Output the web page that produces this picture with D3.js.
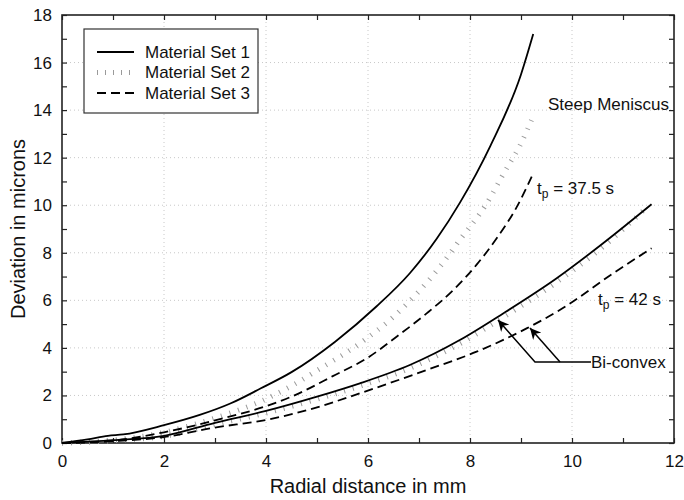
<!DOCTYPE html>
<html><head><meta charset="utf-8">
<script src="https://cdn.jsdelivr.net/npm/d3@7"></script>
<style>body{margin:0;background:#fff}svg{display:block;font-family:"Liberation Sans",Arial,sans-serif}</style>
</head><body><svg id="c" width="684" height="500"></svg>
<script>
const xTicks = [0,2,4,6,8,10,12];
const yTicks = [0,2,4,6,8,10,12,14,16,18];
const seriesNames = ["Material Set 1","Material Set 2","Material Set 3"];

// Steep Meniscus (tp = 37.5 s)
const steep1X = [0,0.5,0.9,1.2,2,2.7,3.3,3.9,4.5,5.35,6.17,6.82,7.35,7.8,8.4,9.0,9.24];
const steep1Y = [0,0.15,0.3,0.36,0.75,1.18,1.66,2.3,2.98,4.25,5.75,7.14,8.6,10.1,12.5,15.5,17.2];
const steep2X = [0,1,2,3,4,4.5,5,5.84,6.5,7.02,7.41,7.8,8.33,8.65,9.0,9.25];
const steep2Y = [0,0.12,0.45,1.05,1.85,2.4,3.05,4.19,5.31,6.43,7.41,8.54,10.08,11.3,12.6,13.8];
const steep3X = [0,1,2,3,4,4.5,5.3,6.04,6.56,7.15,7.67,8.13,8.52,8.91,9.21];
const steep3Y = [0,0.1,0.45,0.95,1.55,1.95,2.8,3.65,4.47,5.45,6.43,7.5,8.6,9.9,11.2];

// Bi-convex (tp = 42 s)
const bic1X = [0,1,2,3,4,5,5.84,6.82,7.8,8.65,9.7,10.61,11.56];
const bic1Y = [0,0.12,0.3,0.85,1.35,1.95,2.51,3.28,4.33,5.45,6.93,8.4,10.04];
const bic2X = [0,1,2,3,4,5,5.84,6.82,7.8,8.65,9.7,10.61,11.5];
const bic2Y = [0,0.1,0.28,0.77,1.26,1.84,2.39,3.14,4.17,5.28,6.76,8.25,9.98];
const bic3X = [0,1,2,3,4,5,5.84,7.15,8.13,9.11,9.76,10.81,11.56];
const bic3Y = [0,0.08,0.25,0.65,0.97,1.5,2.09,3.07,3.84,4.82,5.59,7.14,8.19];

const svg = d3.select("#c");
const x = d3.scaleLinear().domain([0,12]).range([62,674]);
const y = d3.scaleLinear().domain([0,18]).range([443,15]);

svg.append("rect").attr("width",684).attr("height",500).attr("fill","#fff");

// grid
const g = svg.append("g");
g.selectAll(".gx").data(xTicks.slice(1,-1)).enter().append("line")
 .attr("x1",d=>x(d)).attr("x2",d=>x(d)).attr("y1",y(0)).attr("y2",y(18))
 .attr("stroke","#c8c8c8").attr("stroke-dasharray","1,3");
g.selectAll(".gy").data(yTicks.slice(1,-1)).enter().append("line")
 .attr("y1",d=>y(d)).attr("y2",d=>y(d)).attr("x1",x(0)).attr("x2",x(12))
 .attr("stroke","#c8c8c8").attr("stroke-dasharray","1,3");

// axes
const minorX = d3.range(0,13,1), minorY = d3.range(0,19,1);
const axB = d3.axisBottom(x).tickValues(minorX).tickSize(-5).tickFormat(d=>xTicks.includes(d)?d:"");
const axT = d3.axisTop(x).tickValues(minorX).tickSize(-5).tickFormat("");
const axL = d3.axisLeft(y).tickValues(minorY).tickSize(-5).tickFormat(d=>yTicks.includes(d)?d:"");
const axR = d3.axisRight(y).tickValues(minorY).tickSize(-5).tickFormat("");
function style(sel){
  sel.select(".domain").remove();
  sel.selectAll("line").attr("stroke","#222").attr("stroke-width",1.2);
  sel.selectAll("text").attr("font-size",17).attr("fill","#111").attr("font-family","Liberation Sans, Arial, sans-serif");
}
svg.append("g").attr("transform",`translate(0,${y(0)})`).call(axB).call(style).selectAll("text").attr("dy","0.71em").attr("y",12);
svg.append("g").attr("transform",`translate(0,${y(18)})`).call(axT).call(style);
svg.append("g").attr("transform",`translate(${x(0)},0)`).call(axL).call(style).selectAll("text").attr("x",-10);
svg.append("g").attr("transform",`translate(${x(12)},0)`).call(axR).call(style);
svg.append("rect").attr("x",x(0)).attr("y",y(18)).attr("width",x(12)-x(0)).attr("height",y(0)-y(18))
 .attr("fill","none").attr("stroke","#222").attr("stroke-width",1.6);

// series
const line = d3.line().x(d=>x(d[0])).y(d=>y(d[1])).curve(d3.curveMonotoneX);
const styles = [
  {stroke:"#000",width:1.8,dash:null},
  {stroke:"#9a9a9a",width:5,dash:"1,8"},
  {stroke:"#000",width:1.8,dash:"9,5"}
];
const series = [
  [steep1X,steep1Y,0],[steep2X,steep2Y,1],[steep3X,steep3Y,2],
  [bic1X,bic1Y,0],[bic2X,bic2Y,1],[bic3X,bic3Y,2]
];
[1,0,2].forEach(k=>{
  series.filter(s=>s[2]===k).forEach(s=>{
    const pts = s[0].map((v,i)=>[v,s[1][i]]);
    const st = styles[k];
    svg.append("path").attr("d",line(pts)).attr("fill","none")
      .attr("stroke",st.stroke).attr("stroke-width",st.width)
      .attr("stroke-dasharray",st.dash).attr("stroke-linejoin","round");
  });
});

// legend
const lg = svg.append("g");
lg.append("rect").attr("x",84).attr("y",29).attr("width",174).attr("height",84)
  .attr("fill","#fff").attr("stroke","#333").attr("stroke-width",1.2);
seriesNames.forEach((n,i)=>{
  const yy = 52 + i*20.5;
  const st = styles[i];
  lg.append("line").attr("x1",97).attr("x2",134).attr("y1",yy).attr("y2",yy)
    .attr("stroke",st.stroke).attr("stroke-width",i===1?5:st.width).attr("stroke-dasharray",i===1?"1,7":(i===2?"9,5":null));
  lg.append("text").attr("x",145).attr("y",yy).attr("dy","0.35em").attr("font-size",17).attr("fill","#111").text(n);
});

// annotations
svg.append("text").attr("x",548).attr("y",110).attr("font-size",17).attr("fill","#111").text("Steep Meniscus");
function tpLabel(xx,yy,val){
  const t = svg.append("text").attr("x",xx).attr("y",yy).attr("font-size",17).attr("fill","#111");
  t.append("tspan").text("t");
  t.append("tspan").attr("font-size",12).attr("dy",4).text("p");
  t.append("tspan").attr("dy",-4).text(" = "+val+" s");
}
tpLabel(537,194,"37.5");
tpLabel(598,305,"42");

svg.append("defs").append("marker").attr("id","arr").attr("viewBox","0 0 10 10")
  .attr("refX",10).attr("refY",5).attr("markerWidth",11).attr("markerHeight",11)
  .attr("markerUnits","userSpaceOnUse").attr("orient","auto")
  .append("path").attr("d","M0,0 L10,5 L0,10 L3,5 Z").attr("fill","#000");
svg.append("path").attr("d","M591,362 L535,362 L498,320").attr("fill","none").attr("stroke","#000").attr("stroke-width",1.5).attr("marker-end","url(#arr)");
svg.append("path").attr("d","M560,362 L530,328").attr("fill","none").attr("stroke","#000").attr("stroke-width",1.5).attr("marker-end","url(#arr)");
svg.append("text").attr("x",591).attr("y",362).attr("dy","0.35em").attr("font-size",17).attr("fill","#111").text("Bi-convex");

// axis titles
svg.append("text").attr("x",(x(0)+x(12))/2).attr("y",493).attr("text-anchor","middle").attr("font-size",20).attr("fill","#111").text("Radial distance in mm");
svg.append("text").attr("transform",`translate(25,${(y(0)+y(18))/2}) rotate(-90)`).attr("text-anchor","middle").attr("font-size",20).attr("fill","#111").text("Deviation in microns");
</script></body></html>
